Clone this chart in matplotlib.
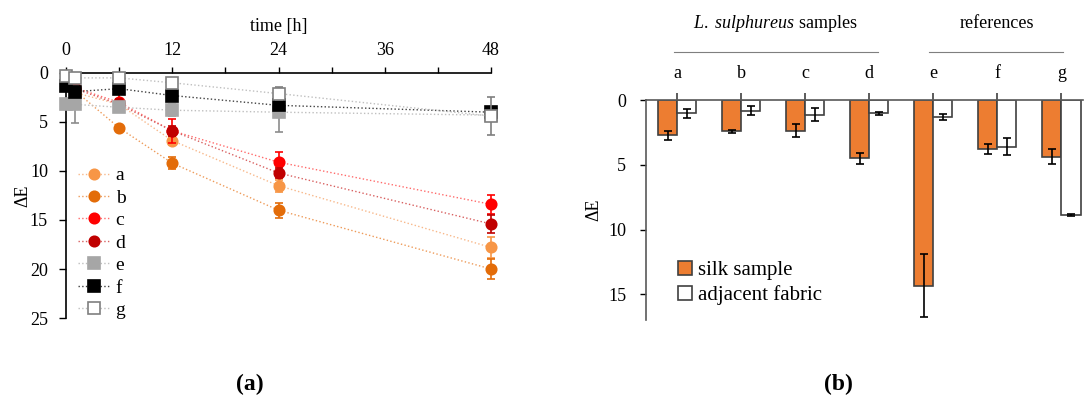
import matplotlib
matplotlib.use("Agg")
import matplotlib.pyplot as plt
import matplotlib.transforms as mtransforms
import numpy as np

plt.rcParams["font.family"] = ["Liberation Serif", "DejaVu Serif"]
plt.rcParams["mathtext.fontset"] = "custom"
plt.rcParams["mathtext.rm"] = "Liberation Serif"
plt.rcParams["mathtext.it"] = "Liberation Serif:italic"

# ---- data: panel (a), colour change over time ----
hours = [0, 1, 6, 12, 24, 48]
series_names = ["a", "b", "c", "d", "e", "f", "g"]
dE_a = [1.2, 2.0, 3.2, 6.9, 11.5, 17.8]
dE_b = [1.2, 1.8, 5.6, 9.2, 14.0, 20.0]
dE_c = [1.2, 1.5, 3.0, 5.9, 9.1, 13.4]
dE_d = [1.2, 1.6, 3.2, 5.9, 10.2, 15.4]
dE_e = [3.2, 3.2, 3.5, 3.8, 4.0, 4.3]
dE_f = [1.3, 1.9, 1.6, 2.3, 3.3, 4.0]
dE_g = [0.3, 0.5, 0.5, 1.0, 2.1, 4.4]
err_a = [0.0, 0.3, 0.4, 0.4, 0.6, 1.1]
err_b = [0.0, 0.3, 0.3, 0.6, 0.75, 1.0]
err_c = [0.0, 0.3, 1.0, 1.2, 1.0, 1.0]
err_d = [0.0, 0.3, 0.5, 0.5, 0.5, 0.9]
err_e = [0.0, 1.9, 0.4, 0.6, 2.0, 0.3]
err_f = [0.0, 0.4, 0.3, 0.4, 0.4, 0.3]
err_g = [0.0, 0.2, 0.2, 0.3, 0.7, 1.9]

# ---- data: panel (b), after 48 h ----
samples = ["a", "b", "c", "d", "e", "f", "g"]
silk = [2.7, 2.4, 2.35, 4.5, 14.35, 3.75, 4.35]
silk_err = [0.35, 0.12, 0.5, 0.45, 2.45, 0.4, 0.55]
fabric = [1.0, 0.8, 1.1, 1.0, 1.3, 3.6, 8.9]
fabric_err = [0.35, 0.35, 0.5, 0.12, 0.22, 0.65, 0.07]

styles = {
    "a": dict(marker="o", mfc="#F79646", mec="#F79646", line="#F8B88A", ecol="#F79646"),
    "b": dict(marker="o", mfc="#E36C09", mec="#E36C09", line="#EE9B5A", ecol="#E36C09"),
    "c": dict(marker="o", mfc="#FF0000", mec="#FF0000", line="#FF6B6B", ecol="#FF0000"),
    "d": dict(marker="o", mfc="#C00000", mec="#C00000", line="#D86060", ecol="#C00000"),
    "e": dict(marker="s", mfc="#A6A6A6", mec="#A6A6A6", line="#BFBFBF", ecol="#8C8C8C"),
    "f": dict(marker="s", mfc="#000000", mec="#000000", line="#404040", ecol="#000000"),
    "g": dict(marker="s", mfc="#FFFFFF", mec="#7F7F7F", line="#BFBFBF", ecol="#7F7F7F"),
}

fig = plt.figure(figsize=(10.86, 3.98), dpi=100)
FS = 13

# ---------- panel (a) ----------
ax1 = fig.add_axes([0.0608, 0.2010, 0.3913, 0.6156])
values = [dE_a, dE_b, dE_c, dE_d, dE_e, dE_f, dE_g]
errors = [err_a, err_b, err_c, err_d, err_e, err_f, err_g]
for i, (name, v, e) in enumerate(zip(series_names, values, errors)):
    st = styles[name]
    ms = 7.5 if st["marker"] == "o" else 8.5
    ax1.errorbar(hours, v, yerr=e, fmt="none", ecolor=st["ecol"], elinewidth=1.2,
                 capsize=3, capthick=1.2, zorder=2 + i, clip_on=False)
    ax1.plot(hours, v, linestyle=":", color=st["line"], lw=1.0, marker=st["marker"],
             ms=ms, mfc=st["mfc"], mec=st["mec"], mew=1.2, label=name,
             zorder=3 + i, clip_on=False)

ax1.set_xlim(0, 48)
ax1.set_ylim(25, 0)
ax1.xaxis.tick_top()
ax1.xaxis.set_label_position("top")
ax1.set_xticks([0, 12, 24, 36, 48])
ax1.set_xticks([6, 18, 30, 42], minor=True)
ax1.set_yticks([0, 5, 10, 15, 20, 25])
ax1.tick_params(axis="x", which="both", direction="out", length=4, width=1, pad=6,
                labelsize=FS, top=True, bottom=False)
ax1.tick_params(axis="y", direction="out", length=5, width=1, labelsize=FS, pad=8)
ax1.set_xlabel("time [h]", fontsize=FS, labelpad=8)
ax1.set_ylabel("ΔE", fontsize=FS, labelpad=-1)
for side in ["right", "bottom"]:
    ax1.spines[side].set_visible(False)
for side in ["top", "left"]:
    ax1.spines[side].set_linewidth(1.2)
ax1.legend(loc="upper left", bbox_to_anchor=(0.0, 0.665), frameon=False, fontsize=14,
           handlelength=1.7, handletextpad=0.25, labelspacing=0.25, borderaxespad=0.2)

# ---------- panel (b) ----------
ax2 = fig.add_axes([0.5946, 0.196, 0.4027, 0.552])
x = np.arange(len(samples))
w = 0.3
ax2.bar(x - w / 2, silk, width=w, color="#ED7D31", edgecolor="#404040", lw=1.2,
        label="silk sample", zorder=2)
ax2.bar(x + w / 2, fabric, width=w, color="white", edgecolor="#404040", lw=1.2,
        label="adjacent fabric", zorder=2)
ax2.errorbar(x - w / 2, silk, yerr=silk_err, fmt="none", ecolor="black", elinewidth=1.2,
             capsize=3, capthick=1.2, zorder=3)
ax2.errorbar(x + w / 2, fabric, yerr=fabric_err, fmt="none", ecolor="black", elinewidth=1.2,
             capsize=3, capthick=1.2, zorder=3)
ax2.set_xlim(-0.49, 6.34)
ax2.set_ylim(17, 0)
ax2.xaxis.tick_top()
ax2.set_xticks(x)
ax2.set_xticklabels(samples)
ax2.set_yticks([0, 5, 10, 15])
ax2.tick_params(axis="x", direction="out", length=5, width=1.2, labelsize=FS, pad=8,
                color="#404040")
ax2.tick_params(axis="y", direction="out", length=4, width=1, labelsize=FS, pad=10)
ax2.set_ylabel("ΔE", fontsize=FS, labelpad=4)
for side in ["right", "bottom"]:
    ax2.spines[side].set_visible(False)
for side in ["top", "left"]:
    ax2.spines[side].set_linewidth(1.2)
    ax2.spines[side].set_color("#595959")
ax2.legend(loc="upper left", bbox_to_anchor=(0.03, 0.355), frameon=False, fontsize=15,
           handlelength=0.7, handleheight=0.7, handletextpad=0.3, labelspacing=0.25)

# group headers above panel (b)
trans = mtransforms.blended_transform_factory(ax2.transData, ax2.transAxes)
ax2.plot([-0.05, 3.14], [1.22, 1.22], color="#7F7F7F", lw=0.8, transform=trans, clip_on=False)
ax2.plot([3.94, 6.03], [1.22, 1.22], color="#7F7F7F", lw=0.8, transform=trans, clip_on=False)
ax2.text(1.53, 1.35, r"$\mathit{L.\ sulphureus}$ samples", transform=trans,
         ha="center", va="center", fontsize=FS)
ax2.text(5.0, 1.35, "references", transform=trans, ha="center", va="center", fontsize=FS)

fig.text(0.230, 0.035, "(a)", ha="center", va="center", fontsize=17, fontweight="bold")
fig.text(0.772, 0.035, "(b)", ha="center", va="center", fontsize=17, fontweight="bold")

fig.savefig("out.png", dpi=100)
